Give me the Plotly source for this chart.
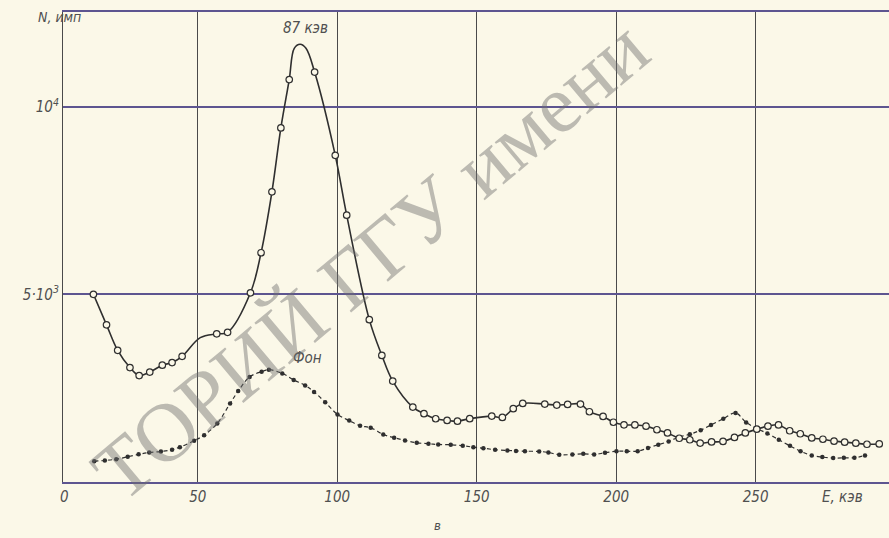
import plotly.graph_objects as go

# ---- data ----
# measured spectrum (open circles)
E_meas = [12.6, 17.3, 21.3, 25.7, 29.0, 32.8, 37.3, 40.8, 44.4, 56.8, 60.7, 68.9, 72.7, 76.6,
          79.8, 82.8, 91.9, 99.3, 103.4, 111.5, 116.0, 119.9, 127.1, 131.1, 135.3, 139.4,
          143.1, 147.5, 155.4, 159.2, 163.1, 166.5, 174.4, 178.7, 182.6, 187.2, 190.4,
          195.3, 199.0, 202.8, 206.7, 210.7, 214.6, 218.4, 222.6, 226.4, 230.1, 234.2,
          238.3, 242.4, 246.3, 250.4, 254.4, 258.2, 262.2, 266.0, 270.1, 274.1, 278.1,
          281.9, 285.9, 289.9, 294.3]
N_meas = [5000, 4187, 3507, 3048, 2835, 2928, 3112, 3181, 3347, 3947, 3987, 5040, 6107, 7731,
          9432, 10720, 10920, 8701, 7107, 4325, 3373, 2688, 1995, 1819, 1685, 1640,
          1621, 1688, 1755, 1720, 1952, 2093, 2075, 2048, 2067, 2075, 1872,
          1747, 1592, 1523, 1520, 1488, 1392, 1307, 1165, 1125, 1037, 1067,
          1080, 1187, 1307, 1408, 1488, 1520, 1365, 1285, 1173, 1139, 1088,
          1061, 1035, 1005, 1013]
# drawn curve where there are no measured points (shoulder and peak top)
E_peak_curve = [50.9, 84.6, 86.7, 88.8]
N_peak_curve = [3845, 11552, 11659, 11552]

# background ("Фон", filled dots)
E_bg = [12.9, 16.7, 20.8, 24.9, 28.8, 32.6, 36.8, 40.8, 43.6, 48.7, 52.3, 57.0, 61.6, 64.5,
        68.6, 72.9, 75.5, 80.3, 84.4, 88.5, 91.7, 95.7, 100.1, 104.3, 108.2, 112.0, 116.5,
        120.4, 124.3, 128.5, 132.7, 136.2, 140.7, 145.0, 148.8, 152.4, 156.6, 161.0, 164.1,
        167.3, 172.4, 175.7, 179.6, 184.3, 188.2, 192.1, 196.0, 200.1, 203.8, 207.7, 211.4,
        215.1, 218.8, 222.4, 226.4, 230.3, 234.0, 238.4, 242.8, 246.6, 250.6, 254.2, 258.3,
        262.3, 266.1, 270.1, 273.9, 277.8, 281.6, 285.4, 289.2]
N_bg = [555, 573, 608, 672, 736, 787, 813, 861, 928, 1099, 1248, 1560, 2093, 2421,
        2800, 2939, 2992, 2893, 2720, 2573, 2400, 2125, 1800, 1635, 1499, 1445, 1267,
        1179, 1107, 1045, 1019, 1000, 992, 965, 928, 901, 859, 840, 829,
        821, 813, 787, 725, 733, 752, 733, 779, 821, 821, 821, 907,
        995, 1080, 1195, 1272, 1381, 1520, 1685, 1840, 1587, 1419, 1293, 1125,
        963, 819, 707, 664, 637, 645, 645, 707]

x_ticks = [50, 100, 150, 200, 250]
x_ticktext = ["50", "100", "150", "200", "250"]
y_ticks = [5000, 10000]
y_ticktext = ["5·10<sup>3</sup>", "10<sup>4</sup>"]

# ---- styling ----
BG = "#fbf8e8"
INK = "#2f2f2f"
TXT = "#505050"
HLINE = "#5d5590"
FONT = "Liberation Sans Narrow, DejaVu Sans Condensed, Liberation Sans, sans-serif"

curve = sorted(zip(E_meas + E_peak_curve, N_meas + N_peak_curve))
E_curve = [c[0] for c in curve]
N_curve = [c[1] for c in curve]

fig = go.Figure()
fig.add_trace(go.Scatter(x=E_bg, y=N_bg, mode="lines+markers",
                         line=dict(color=INK, width=1.2, dash="4px,3px", shape="spline"),
                         marker=dict(size=4.5, color=INK), hoverinfo="skip"))
fig.add_trace(go.Scatter(x=E_curve, y=N_curve, mode="lines",
                         line=dict(color=INK, width=1.6, shape="spline", smoothing=1.0),
                         hoverinfo="skip"))
fig.add_trace(go.Scatter(x=E_meas, y=N_meas, mode="markers",
                         marker=dict(size=6.5, color=BG, line=dict(color=INK, width=1.2)),
                         hoverinfo="skip"))

fig.update_layout(
    width=889, height=538,
    margin=dict(l=63, r=0, t=12, b=56),
    paper_bgcolor=BG, plot_bgcolor=BG,
    showlegend=False,
    font=dict(family=FONT, color=TXT, size=15),
)
fig.update_xaxes(range=[1.7, 297.8], tickvals=x_ticks, ticktext=x_ticktext,
                 showgrid=True, gridcolor="#4a4a4a", gridwidth=1,
                 showline=True, linecolor=HLINE, linewidth=2, mirror=True,
                 zeroline=False, ticks="",
                 tickfont=dict(family=FONT, size=15, color=TXT, style="italic"))
fig.update_yaxes(range=[0, 12520], tickvals=y_ticks, ticktext=y_ticktext,
                 showgrid=True, gridcolor=HLINE, gridwidth=1.6,
                 showline=True, linecolor="#4a4a4a", linewidth=1.2,
                 zeroline=False, ticks="",
                 tickfont=dict(family=FONT, size=15, color=TXT, style="italic"))

ann_font = dict(family=FONT, size=15, color=TXT, style="italic")
fig.add_annotation(x=(58 - 63) / 826, y=-0.032, xref="paper", yref="paper", text="0",
                   showarrow=False, font=ann_font, yanchor="middle")
fig.add_annotation(x=0.971, y=-0.032, xref="paper", yref="paper", text="E, кэв",
                   showarrow=False, font=ann_font, yanchor="middle")
fig.add_annotation(x=-0.033, y=0.989, xref="paper", yref="paper", text="N, имп",
                   showarrow=False, font=dict(family=FONT, size=14, color=TXT, style="italic"),
                   yanchor="middle")
fig.add_annotation(x=88.5, y=12094, xref="x", yref="y", text="87 кэв", showarrow=False,
                   font=ann_font, yanchor="middle")
fig.add_annotation(x=89.5, y=3293, xref="x", yref="y", text="Фон", showarrow=False,
                   font=ann_font, yanchor="middle")
fig.add_annotation(x=0.453, y=-0.0915, xref="paper", yref="paper", text="в", showarrow=False,
                   font=dict(family=FONT, size=13, color=TXT, style="italic"), yanchor="middle")
# scan watermark (cut by the picture edge in the reference as well)
fig.add_annotation(x=(370 - 63) / 826, y=(482 - 260) / 470, xref="paper", yref="paper",
                   text="ТОРИЙ ГГУ имени", showarrow=False, textangle=-40,
                   font=dict(family="Liberation Serif, DejaVu Serif, serif", size=83,
                             color="rgba(110,110,110,0.45)"))

fig.write_html("out.html",
               config={"displayModeBar": False},
               post_script="document.body.style.margin='0';document.body.style.overflow='hidden';")
